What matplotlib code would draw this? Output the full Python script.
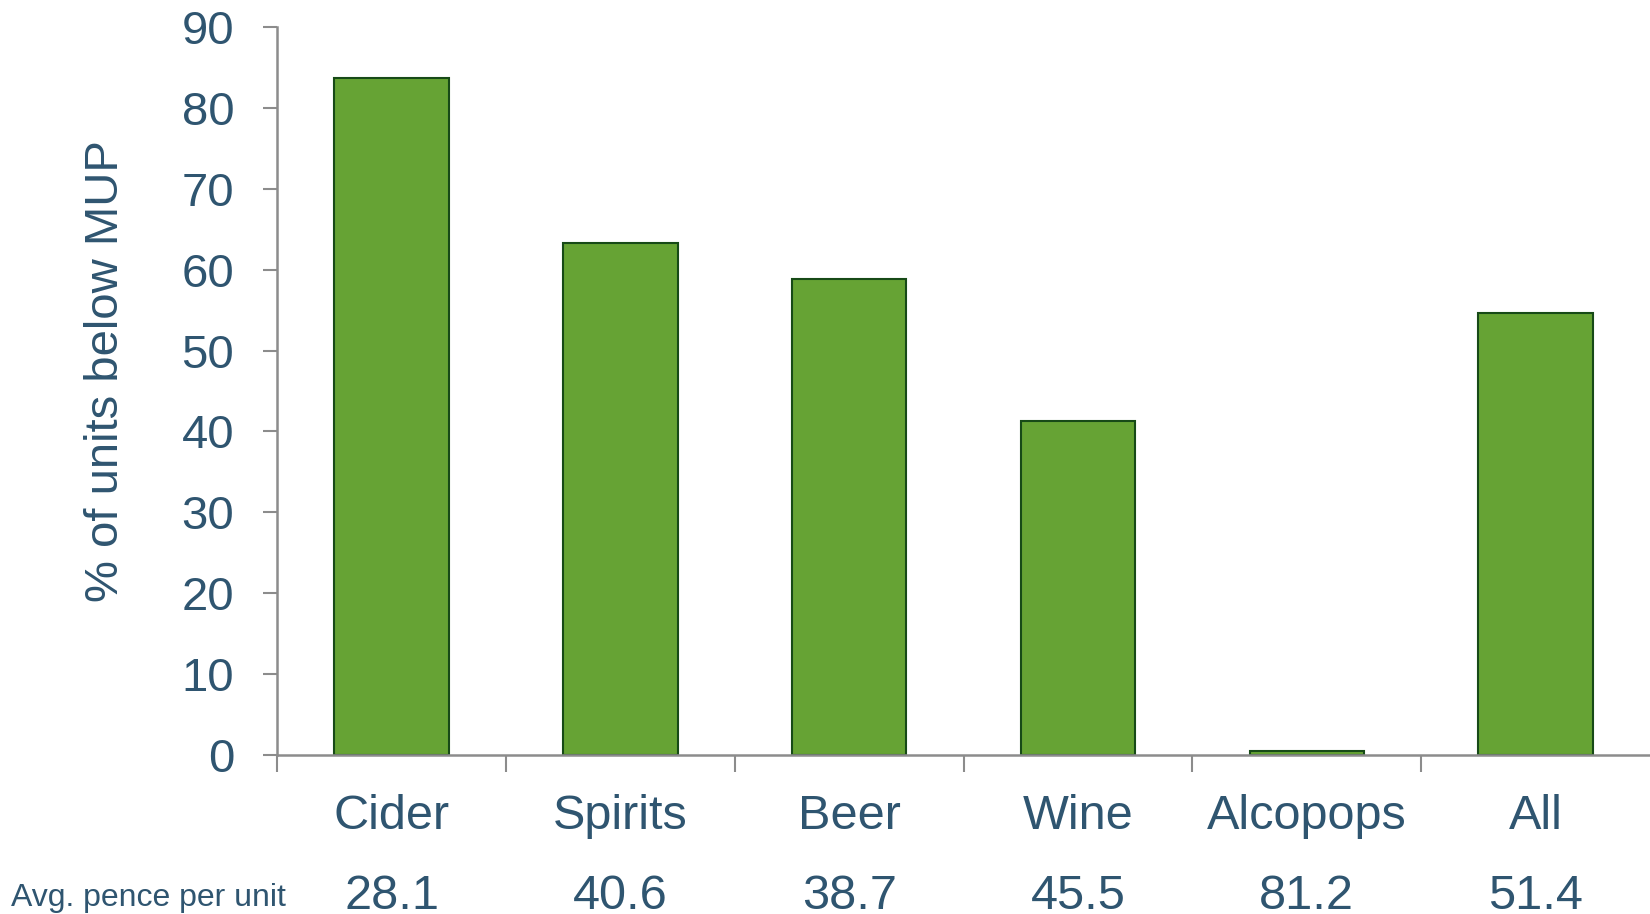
import matplotlib
matplotlib.use("Agg")
import matplotlib.pyplot as plt
import matplotlib.transforms as mtransforms
import numpy as np

# share of units sold below the minimum unit price, by drink type
categories = ["Cider", "Spirits", "Beer", "Wine", "Alcopops", "All"]
pct_below_mup = [83.7, 63.3, 58.9, 41.3, 0.4, 54.6]
avg_pence = ["28.1", "40.6", "38.7", "45.5", "81.2", "51.4"]

txt = "#2F5570"
grey = "#8C8C8C"
plt.rcParams["font.family"] = ["Liberation Sans", "DejaVu Sans"]

fig = plt.figure(figsize=(16.5, 9.14), dpi=100)
ax = fig.add_axes([0.168, 0.1745, 0.832, 0.7955])

x = np.arange(len(categories))
ax.bar(x, pct_below_mup, width=0.5, color="#66A334", edgecolor="#174A17",
       linewidth=1.5, zorder=2)

ax.set_xlim(-0.5, len(categories) - 0.5)
ax.set_ylim(0, 90)
ax.set_yticks(range(0, 91, 10))
ax.tick_params(axis="y", labelsize=34, labelcolor=txt, color=grey,
               length=10, width=1.5, pad=21)

# boundaries between categories get the tick marks, labels go below
ax.set_xticks([])
ax.set_xticks(np.arange(-0.5, len(categories) - 1), minor=True)
ax.tick_params(axis="x", which="minor", color=grey, length=12, width=1.5)

for s in ["top", "right"]:
    ax.spines[s].set_visible(False)
for s in ["left", "bottom"]:
    ax.spines[s].set_color(grey)
    ax.spines[s].set_linewidth(1.8)

ax.set_ylabel("% of units below MUP", fontsize=34, color=txt)
ax.yaxis.set_label_coords(-0.109, 0.527)

tr = mtransforms.blended_transform_factory(ax.transData, fig.transFigure)
for i, (c, p) in enumerate(zip(categories, avg_pence)):
    ax.text(i, 0.093, c, transform=tr, ha="center", va="baseline",
            fontsize=35, color=txt)
    ax.text(i, 0.006, p, transform=tr, ha="center", va="baseline",
            fontsize=35, color=txt)

fig.text(0.0064, 0.009, "Avg. pence per unit", ha="left", va="baseline",
         fontsize=23, color=txt)

fig.savefig("out.png", dpi=100)
